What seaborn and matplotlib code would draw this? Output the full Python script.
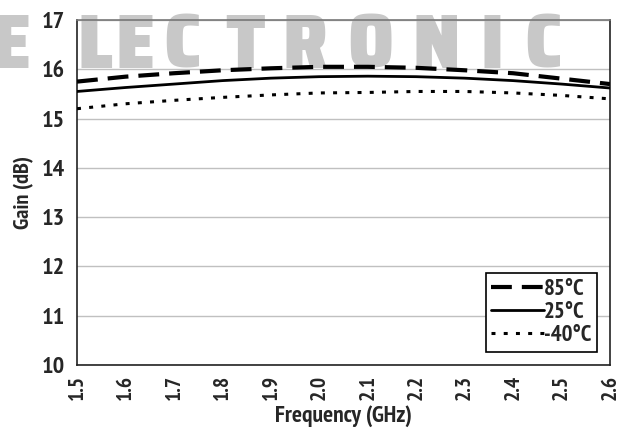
import matplotlib
matplotlib.use("Agg")
import matplotlib.pyplot as plt
from matplotlib import font_manager as fm
from matplotlib.textpath import TextPath
import seaborn as sns
import pandas as pd

freq = [1.5, 1.6, 1.7, 1.8, 1.9, 2.0, 2.1, 2.2, 2.3, 2.4, 2.5, 2.6]
gain_85 = [15.75, 15.85, 15.92, 15.98, 16.02, 16.05, 16.05, 16.03, 15.98, 15.92, 15.81, 15.70]
gain_25 = [15.55, 15.63, 15.70, 15.77, 15.82, 15.85, 15.86, 15.85, 15.82, 15.77, 15.70, 15.62]
gain_m40 = [15.20, 15.30, 15.37, 15.43, 15.48, 15.52, 15.53, 15.55, 15.55, 15.52, 15.47, 15.40]
labels = ["85°C", "25°C", "-40°C"]
x_ticks = [1.5, 1.6, 1.7, 1.8, 1.9, 2.0, 2.1, 2.2, 2.3, 2.4, 2.5, 2.6]
y_ticks = [10, 11, 12, 13, 14, 15, 16, 17]
watermark = "ELECTRONIC"

sns.set_style("white")
available = {f.name for f in fm.fontManager.ttflist}
main = next((n for n in ["PT Sans Narrow", "Roboto Condensed", "Fira Sans Condensed",
                         "Archivo Narrow", "Saira SemiCondensed", "Saira Condensed"]
             if n in available), "DejaVu Sans")
wm_font = next((n for n in ["Saira SemiCondensed", "Saira Condensed", "Anton"]
                if n in available), "DejaVu Sans")
font = [main, "DejaVu Sans"]
plt.rcParams["font.family"] = font
plt.rcParams["font.weight"] = "bold"

fig = plt.figure(figsize=(6.27, 4.28), dpi=100)
ax = fig.add_axes([77 / 627, 63 / 428, 533 / 627, 345 / 428])

# watermark letters (centres in figure pixels), cap height about 53 px
wm_prop = fm.FontProperties(family=wm_font, weight=900)
cap = TextPath((0, 0), "E", size=50, prop=wm_prop).get_extents().height
wm_size = 53 / (cap / 50 * 100 / 72)
wx = [11, 95, 135, 182, 245, 305, 370, 436, 492, 543]
for ch, xx in zip(watermark, wx):
    ax.text(xx / 627, (428 - 68) / 428, ch, transform=fig.transFigure, fontsize=wm_size,
            color="#c8c8c8", fontweight=900, ha="center", va="baseline",
            clip_on=False, zorder=0.4, family=[wm_font, "DejaVu Sans"])

df = pd.DataFrame({"freq": freq * 3,
                   "gain": gain_85 + gain_25 + gain_m40,
                   "temp": [labels[0]] * 12 + [labels[1]] * 12 + [labels[2]] * 12})

styles = {labels[0]: dict(lw=3.0, dashes=(5, 2.4)),
          labels[1]: dict(lw=2.0, dashes=()),
          labels[2]: dict(lw=2.2, dashes=(1.3, 2.7))}
for lab in labels:
    sub = df[df["temp"] == lab]
    st = styles[lab]
    sns.lineplot(data=sub, x="freq", y="gain", ax=ax, color="black",
                 lw=st["lw"], label=lab, zorder=3)
    ln = ax.lines[-1]
    if st["dashes"]:
        ln.set_dashes(st["dashes"])

ax.set_xlim(1.5, 2.6)
ax.set_ylim(10, 17)
ax.set_xticks(x_ticks)
ax.set_xticklabels([f"{v:.1f}" for v in x_ticks], rotation=90, fontsize=15.5, fontweight="bold")
ax.set_yticks(y_ticks)
ax.set_yticklabels([str(v) for v in y_ticks], fontsize=17.5, fontweight="bold")
ax.tick_params(axis="both", direction="out", length=4, width=1, color="#333333", pad=3)
ax.tick_params(axis="y", pad=5)
ax.yaxis.grid(True, color="#c0c0c0", lw=1, zorder=0.5)
ax.set_axisbelow(True)
for s in ax.spines.values():
    s.set_color("#222222")
    s.set_linewidth(1.2)
ax.spines["top"].set_color("#777777")

ax.set_xlabel("Frequency (GHz)", fontsize=17, fontweight="bold", labelpad=4)
ax.set_ylabel("Gain (dB)", fontsize=16, fontweight="bold", labelpad=5)

leg = ax.legend(loc="lower right", frameon=True, fancybox=False, edgecolor="black",
                prop=dict(weight="bold", size=16.5, family=font), handlelength=2.3,
                handletextpad=0.0, borderpad=0.25, labelspacing=0.1, borderaxespad=0,
                bbox_to_anchor=(0.9756, 0.0377))
leg.get_frame().set_linewidth(1.2)
leg.get_frame().set_alpha(1)

fig.savefig("out.png", dpi=100)
